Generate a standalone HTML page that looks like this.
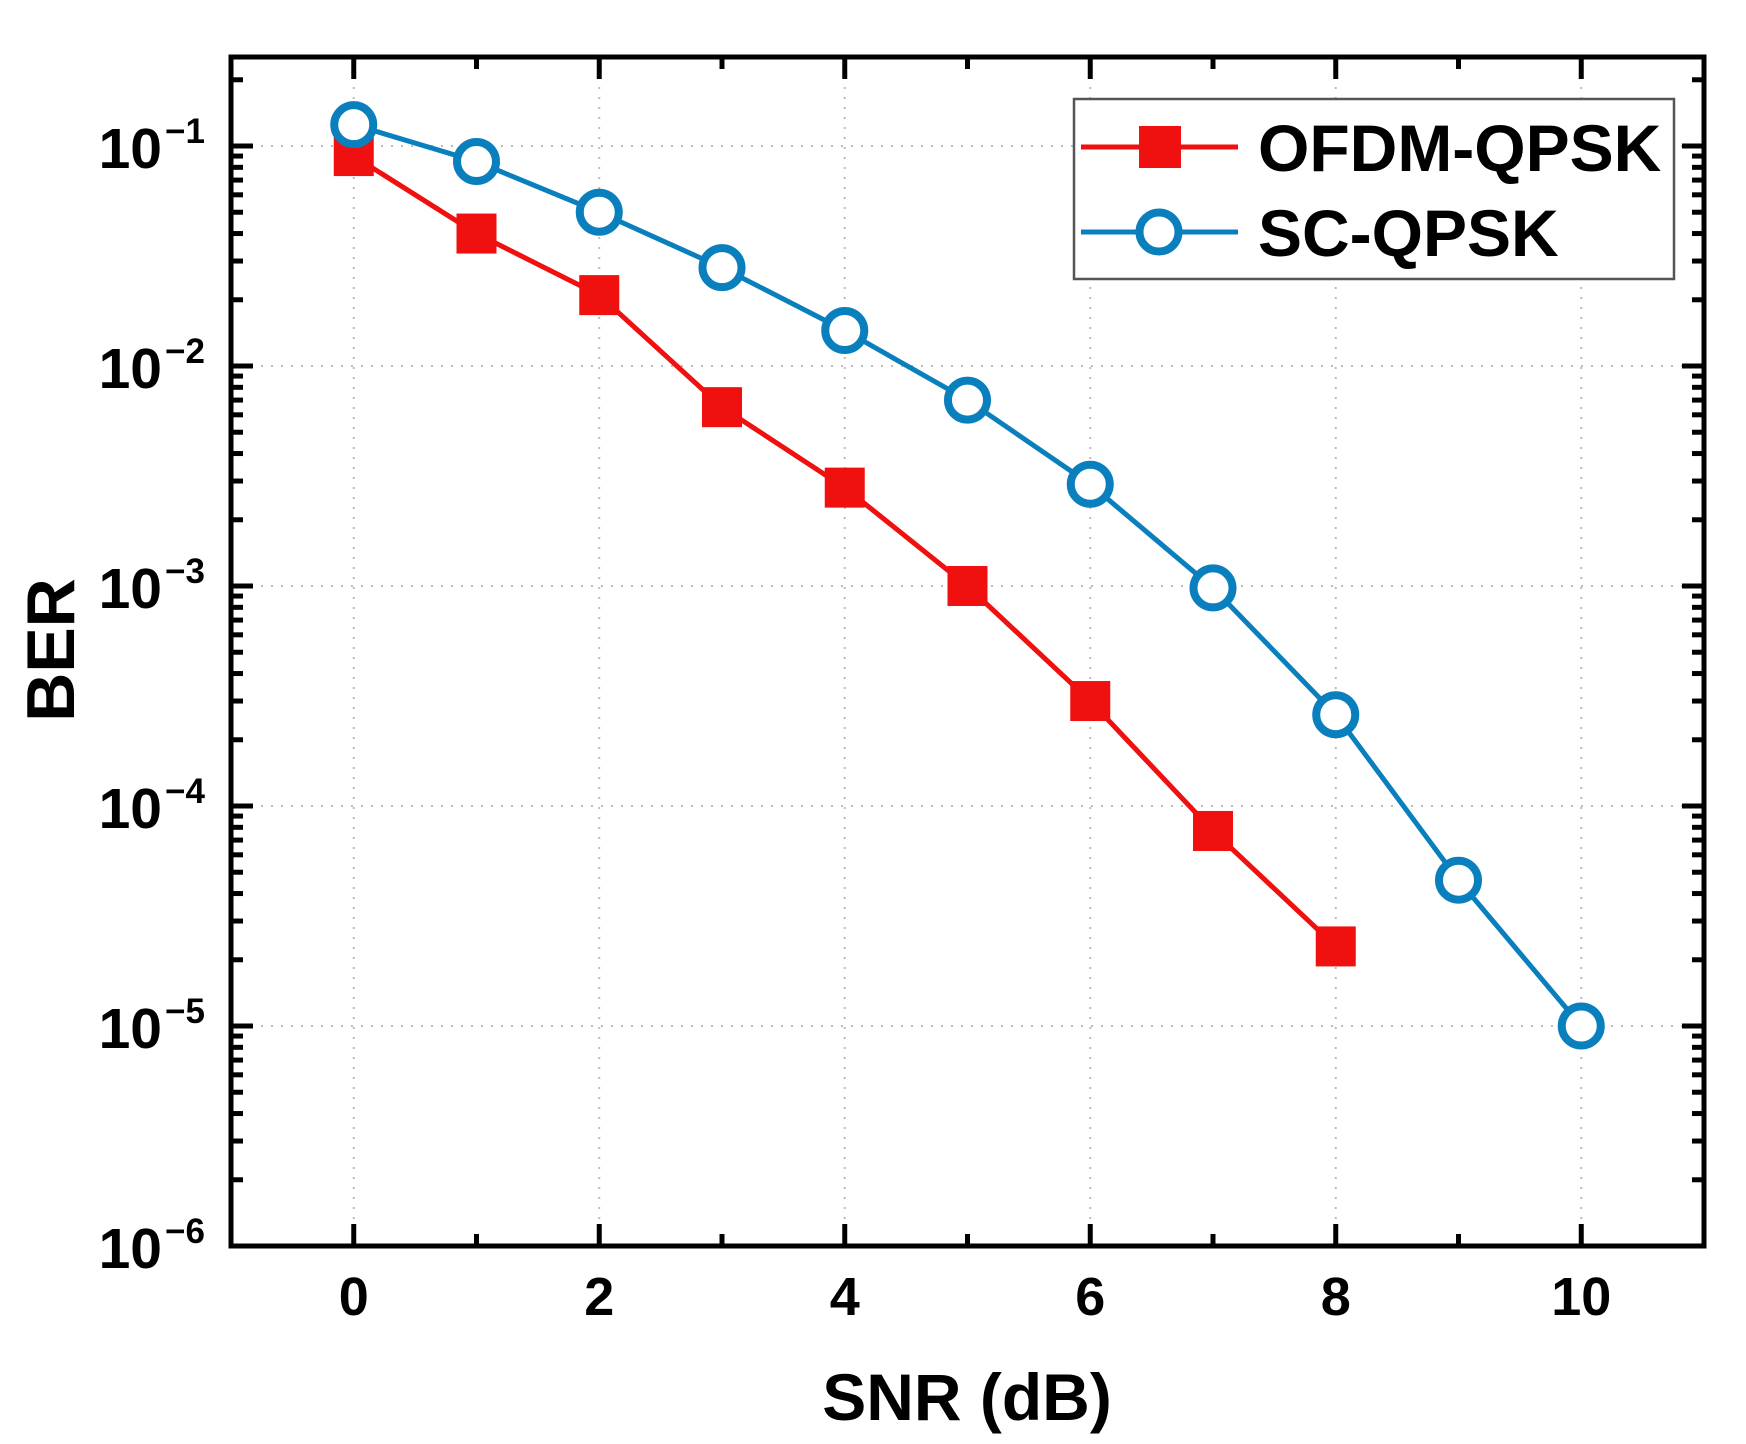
<!DOCTYPE html>
<html><head><meta charset="utf-8"><style>
html,body{margin:0;padding:0;background:#fff;}
svg{display:block;font-family:"Liberation Sans",Arial,sans-serif;font-weight:bold;}
</style></head><body>
<svg id="chart" width="1746" height="1444" viewBox="0 0 1746 1444"></svg>
<script>
const snrOfdm = [0,1,2,3,4,5,6,7,8];
const berOfdm = [0.09,0.04,0.021,0.0065,0.0028,0.001,0.0003,0.000077,0.000023];
const snrSc = [0,1,2,3,4,5,6,7,8,9,10];
const berSc = [0.125,0.085,0.05,0.028,0.0145,0.007,0.0029,0.00098,0.00026,0.000046,0.00001];
const xTicks = [0,2,4,6,8,10];
const yExps = [-1,-2,-3,-4,-5,-6];

const NS='http://www.w3.org/2000/svg';
const svg=document.getElementById('chart');
const L=231,R=1704,T=57,B=1246;
const xMin=-1,xMax=11;
const yBot=-6, yTop=-6+(B-T)/220;
function X(v){return L+(v-xMin)/(xMax-xMin)*(R-L);}
function Y(v){return B-(Math.log10(v)-yBot)/(yTop-yBot)*(B-T);}
function el(tag,attrs,parent){const e=document.createElementNS(NS,tag);for(const k in attrs)e.setAttribute(k,attrs[k]);(parent||svg).appendChild(e);return e;}

const grid=el('g',{});


xTicks.forEach(t=>el('line',{x1:X(t),x2:X(t),y1:T,y2:B,stroke:'#bbb','stroke-width':2,'stroke-dasharray':'2,8'},grid));
yExps.forEach(e=>el('line',{x1:L,x2:R,y1:Y(Math.pow(10,e)),y2:Y(Math.pow(10,e)),stroke:'#bbb','stroke-width':2,'stroke-dasharray':'2,8'},grid));

const ticks=el('g',{stroke:'#000','stroke-width':5});


for(let v=0;v<=10;v++){
  const len=(v%2===0)?22:12;
  el('line',{x1:X(v),x2:X(v),y1:B,y2:B-len},ticks);
  el('line',{x1:X(v),x2:X(v),y1:T,y2:T+len},ticks);
}
for(let e=-6;e<=0;e++){
  for(let m=1;m<=9;m++){
    const v=m*Math.pow(10,e);
    const y=Y(v);
    if(y<T||y>B)continue;
    const len=m===1?22:12;
    el('line',{x1:L,x2:L+len,y1:y,y2:y},ticks);
    el('line',{x1:R,x2:R-len,y1:y,y2:y},ticks);
  }
}
const frame=el('rect',{x:L,y:T,width:R-L,height:B-T,fill:'none',stroke:'#000','stroke-width':5});



xTicks.forEach(t=>{
  const tx=el('text',{x:X(t),y:1315,'text-anchor':'middle','font-size':54,fill:'#000'});
  tx.textContent=t;
  
  
});
yExps.forEach(e=>{
  const y=Y(Math.pow(10,e));
  const tx=el('text',{x:162,y:y+22,'text-anchor':'end','font-size':57,fill:'#000'});
  tx.textContent='10';
  
  
  const sp=el('text',{x:165,y:y-3,'text-anchor':'start','font-size':35,fill:'#000'});
  sp.textContent='\u2212'+(-e);
  
  
});

const xt=el('text',{x:967,y:1420,'text-anchor':'middle','font-size':66,fill:'#000'});
xt.textContent='SNR (dB)';


const yt=el('text',{x:0,y:0,'text-anchor':'middle','font-size':68,fill:'#000',transform:'translate(74,650) rotate(-90)'});
yt.textContent='BER';



function drawSeries(xs,ys,color,shape,name){
  const g=el('g',{});
  
  
  const pts=xs.map((x,i)=>X(x)+','+Y(ys[i])).join(' ');
  el('polyline',{points:pts,fill:'none',stroke:color,'stroke-width':5},g);
  xs.forEach((x,i)=>{
    let m;
    if(shape==='square'){
      m=el('rect',{x:X(x)-20,y:Y(ys[i])-20,width:40,height:40,fill:color},g);
    }else{
      m=el('circle',{cx:X(x),cy:Y(ys[i]),r:19.5,fill:'#fff',stroke:color,'stroke-width':8},g);
    }
    
    
  });
}
drawSeries(snrOfdm,berOfdm,'#f01010','square','ofdm-qpsk-series');
drawSeries(snrSc,berSc,'#0a7fbd','circle','sc-qpsk-series');

const lg=el('g',{});


el('rect',{x:1074,y:99,width:600,height:180,fill:'#fff',stroke:'#555','stroke-width':2.5},lg);
el('line',{x1:1081,x2:1238,y1:147,y2:147,stroke:'#f01010','stroke-width':5},lg);
el('rect',{x:1139,y:126,width:42,height:42,fill:'#f01010'},lg);
el('line',{x1:1081,x2:1238,y1:232,y2:232,stroke:'#0a7fbd','stroke-width':5},lg);
el('circle',{cx:1159,cy:232,r:19.5,fill:'#fff',stroke:'#0a7fbd','stroke-width':8},lg);
const l1=el('text',{x:1258,y:171,'font-size':66,fill:'#000'},lg);
l1.textContent='OFDM-QPSK';


const l2=el('text',{x:1258,y:256,'font-size':66,fill:'#000'},lg);
l2.textContent='SC-QPSK';


</script>
</body></html>
